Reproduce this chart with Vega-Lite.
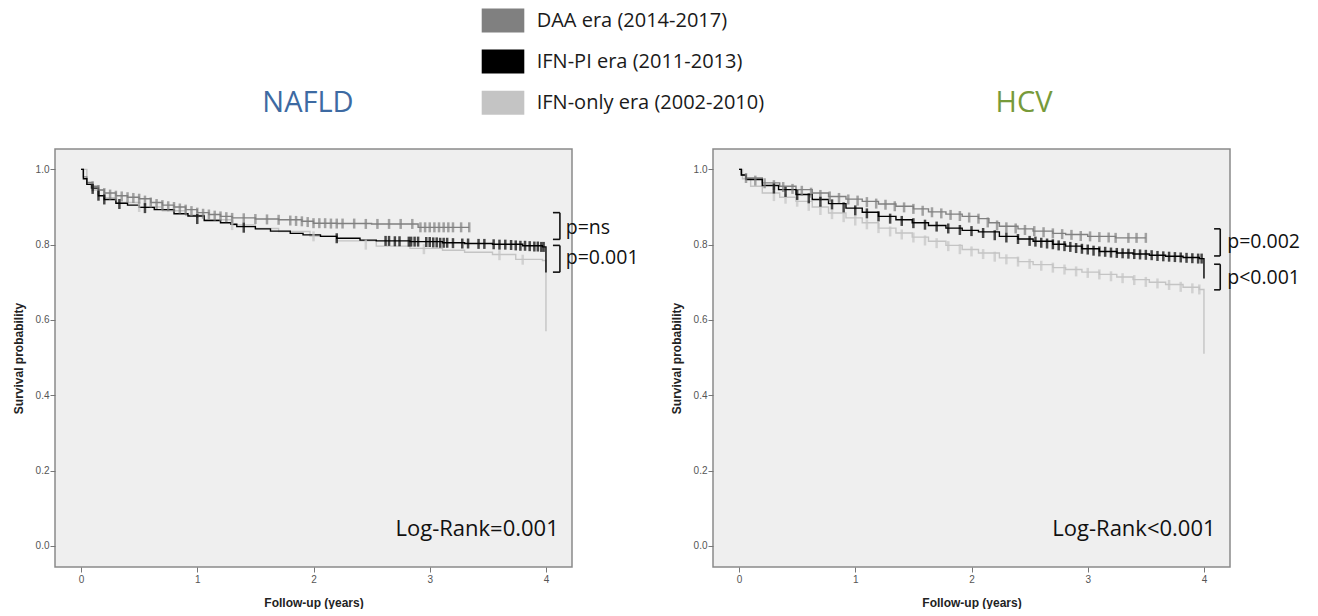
{
"$schema": "https://vega.github.io/schema/vega-lite/v6.json",
"background": "white",
"padding": {"left": 11, "top": 0, "right": 0, "bottom": 0},
"autosize": {"type": "pad"},
"bounds": "flush",
"spacing": 141,
"config": {
 "view": {"fill": "#efefef", "stroke": "#8a8a8a", "strokeWidth": 1.5},
 "axis": {"grid": false, "domain": false, "tickColor": "#777777", "tickSize": 5, "labelFont": "Liberation Sans", "labelFontSize": 10, "labelColor": "#555555", "titleFont": "Liberation Sans", "titleFontSize": 12, "titleFontWeight": "bold", "titleColor": "#222222"},
 "axisY": {"labelPadding": 1, "titlePadding": 10},
 "axisX": {"labelPadding": 2, "titlePadding": 13},
 "title": {"font": "Open Sans", "fontSize": 29, "fontWeight": "normal", "baseline": "alphabetic", "offset": 31, "anchor": "middle"}
},
"datasets": {
 "km": [
  {"p":"N","e":"O","t":0,"s":1},{"p":"N","e":"O","t":0.05,"s":0.96},{"p":"N","e":"O","t":0.1,"s":0.945},{"p":"N","e":"O","t":0.2,"s":0.925},{"p":"N","e":"O","t":0.3,"s":0.912},{"p":"N","e":"O","t":0.5,"s":0.9},{"p":"N","e":"O","t":0.7,"s":0.89},{"p":"N","e":"O","t":0.9,"s":0.878},{"p":"N","e":"O","t":1.06,"s":0.866},{"p":"N","e":"O","t":1.3,"s":0.852},{"p":"N","e":"O","t":1.5,"s":0.843},{"p":"N","e":"O","t":1.7,"s":0.835},{"p":"N","e":"O","t":1.97,"s":0.823},{"p":"N","e":"O","t":2.2,"s":0.81},{"p":"N","e":"O","t":2.54,"s":0.796},{"p":"N","e":"O","t":2.83,"s":0.79},{"p":"N","e":"O","t":3.11,"s":0.785},{"p":"N","e":"O","t":3.3,"s":0.78},{"p":"N","e":"O","t":3.54,"s":0.774},{"p":"N","e":"O","t":3.74,"s":0.761},{"p":"N","e":"O","t":3.97,"s":0.758},{"p":"N","e":"O","t":4.0,"s":0.57},
  {"p":"N","e":"D","t":0,"s":1},{"p":"N","e":"D","t":0.02,"s":0.98},{"p":"N","e":"D","t":0.05,"s":0.965},{"p":"N","e":"D","t":0.1,"s":0.955},{"p":"N","e":"D","t":0.15,"s":0.945},{"p":"N","e":"D","t":0.2,"s":0.937},{"p":"N","e":"D","t":0.3,"s":0.93},{"p":"N","e":"D","t":0.4,"s":0.926},{"p":"N","e":"D","t":0.5,"s":0.922},{"p":"N","e":"D","t":0.6,"s":0.912},{"p":"N","e":"D","t":0.7,"s":0.905},{"p":"N","e":"D","t":0.8,"s":0.9},{"p":"N","e":"D","t":0.9,"s":0.893},{"p":"N","e":"D","t":1.0,"s":0.885},{"p":"N","e":"D","t":1.1,"s":0.88},{"p":"N","e":"D","t":1.2,"s":0.875},{"p":"N","e":"D","t":1.3,"s":0.871},{"p":"N","e":"D","t":1.5,"s":0.868},{"p":"N","e":"D","t":1.7,"s":0.866},{"p":"N","e":"D","t":1.9,"s":0.862},{"p":"N","e":"D","t":2.0,"s":0.857},{"p":"N","e":"D","t":2.2,"s":0.856},{"p":"N","e":"D","t":2.5,"s":0.855},{"p":"N","e":"D","t":2.9,"s":0.846},{"p":"N","e":"D","t":3.34,"s":0.846},
  {"p":"N","e":"P","t":0,"s":1},{"p":"N","e":"P","t":0.02,"s":0.975},{"p":"N","e":"P","t":0.05,"s":0.96},{"p":"N","e":"P","t":0.09,"s":0.95},{"p":"N","e":"P","t":0.15,"s":0.93},{"p":"N","e":"P","t":0.2,"s":0.92},{"p":"N","e":"P","t":0.3,"s":0.91},{"p":"N","e":"P","t":0.4,"s":0.905},{"p":"N","e":"P","t":0.5,"s":0.899},{"p":"N","e":"P","t":0.63,"s":0.893},{"p":"N","e":"P","t":0.8,"s":0.882},{"p":"N","e":"P","t":0.92,"s":0.876},{"p":"N","e":"P","t":1.06,"s":0.864},{"p":"N","e":"P","t":1.2,"s":0.858},{"p":"N","e":"P","t":1.29,"s":0.854},{"p":"N","e":"P","t":1.34,"s":0.848},{"p":"N","e":"P","t":1.5,"s":0.842},{"p":"N","e":"P","t":1.63,"s":0.836},{"p":"N","e":"P","t":1.8,"s":0.83},{"p":"N","e":"P","t":1.91,"s":0.826},{"p":"N","e":"P","t":2.06,"s":0.822},{"p":"N","e":"P","t":2.2,"s":0.817},{"p":"N","e":"P","t":2.4,"s":0.812},{"p":"N","e":"P","t":2.54,"s":0.81},{"p":"N","e":"P","t":2.83,"s":0.808},{"p":"N","e":"P","t":3.11,"s":0.805},{"p":"N","e":"P","t":3.3,"s":0.803},{"p":"N","e":"P","t":3.54,"s":0.801},{"p":"N","e":"P","t":3.8,"s":0.797},{"p":"N","e":"P","t":3.97,"s":0.794},{"p":"N","e":"P","t":4.0,"s":0.726},
  {"p":"H","e":"O","t":0,"s":1},{"p":"H","e":"O","t":0.03,"s":0.975},{"p":"H","e":"O","t":0.1,"s":0.955},{"p":"H","e":"O","t":0.2,"s":0.937},{"p":"H","e":"O","t":0.35,"s":0.926},{"p":"H","e":"O","t":0.49,"s":0.915},{"p":"H","e":"O","t":0.63,"s":0.9},{"p":"H","e":"O","t":0.77,"s":0.884},{"p":"H","e":"O","t":0.92,"s":0.871},{"p":"H","e":"O","t":1.06,"s":0.858},{"p":"H","e":"O","t":1.2,"s":0.844},{"p":"H","e":"O","t":1.35,"s":0.831},{"p":"H","e":"O","t":1.49,"s":0.82},{"p":"H","e":"O","t":1.63,"s":0.809},{"p":"H","e":"O","t":1.78,"s":0.798},{"p":"H","e":"O","t":1.92,"s":0.787},{"p":"H","e":"O","t":2.06,"s":0.778},{"p":"H","e":"O","t":2.24,"s":0.765},{"p":"H","e":"O","t":2.4,"s":0.755},{"p":"H","e":"O","t":2.53,"s":0.747},{"p":"H","e":"O","t":2.7,"s":0.739},{"p":"H","e":"O","t":2.81,"s":0.734},{"p":"H","e":"O","t":2.95,"s":0.727},{"p":"H","e":"O","t":3.1,"s":0.721},{"p":"H","e":"O","t":3.25,"s":0.714},{"p":"H","e":"O","t":3.39,"s":0.707},{"p":"H","e":"O","t":3.53,"s":0.7},{"p":"H","e":"O","t":3.67,"s":0.694},{"p":"H","e":"O","t":3.82,"s":0.687},{"p":"H","e":"O","t":3.96,"s":0.681},{"p":"H","e":"O","t":4.0,"s":0.51},
  {"p":"H","e":"D","t":0,"s":1},{"p":"H","e":"D","t":0.02,"s":0.985},{"p":"H","e":"D","t":0.06,"s":0.977},{"p":"H","e":"D","t":0.2,"s":0.964},{"p":"H","e":"D","t":0.35,"s":0.955},{"p":"H","e":"D","t":0.49,"s":0.946},{"p":"H","e":"D","t":0.63,"s":0.937},{"p":"H","e":"D","t":0.77,"s":0.928},{"p":"H","e":"D","t":0.92,"s":0.921},{"p":"H","e":"D","t":1.06,"s":0.915},{"p":"H","e":"D","t":1.2,"s":0.908},{"p":"H","e":"D","t":1.35,"s":0.902},{"p":"H","e":"D","t":1.5,"s":0.895},{"p":"H","e":"D","t":1.63,"s":0.887},{"p":"H","e":"D","t":1.78,"s":0.881},{"p":"H","e":"D","t":1.92,"s":0.875},{"p":"H","e":"D","t":2.06,"s":0.869},{"p":"H","e":"D","t":2.15,"s":0.858},{"p":"H","e":"D","t":2.24,"s":0.849},{"p":"H","e":"D","t":2.4,"s":0.842},{"p":"H","e":"D","t":2.53,"s":0.836},{"p":"H","e":"D","t":2.7,"s":0.83},{"p":"H","e":"D","t":2.81,"s":0.827},{"p":"H","e":"D","t":3.0,"s":0.822},{"p":"H","e":"D","t":3.24,"s":0.818},{"p":"H","e":"D","t":3.5,"s":0.818},
  {"p":"H","e":"P","t":0,"s":1},{"p":"H","e":"P","t":0.02,"s":0.985},{"p":"H","e":"P","t":0.06,"s":0.973},{"p":"H","e":"P","t":0.2,"s":0.957},{"p":"H","e":"P","t":0.34,"s":0.946},{"p":"H","e":"P","t":0.49,"s":0.933},{"p":"H","e":"P","t":0.63,"s":0.92},{"p":"H","e":"P","t":0.77,"s":0.909},{"p":"H","e":"P","t":0.92,"s":0.897},{"p":"H","e":"P","t":1.06,"s":0.886},{"p":"H","e":"P","t":1.2,"s":0.875},{"p":"H","e":"P","t":1.35,"s":0.866},{"p":"H","e":"P","t":1.49,"s":0.858},{"p":"H","e":"P","t":1.63,"s":0.851},{"p":"H","e":"P","t":1.78,"s":0.844},{"p":"H","e":"P","t":1.92,"s":0.838},{"p":"H","e":"P","t":2.06,"s":0.834},{"p":"H","e":"P","t":2.24,"s":0.822},{"p":"H","e":"P","t":2.4,"s":0.815},{"p":"H","e":"P","t":2.53,"s":0.809},{"p":"H","e":"P","t":2.7,"s":0.801},{"p":"H","e":"P","t":2.81,"s":0.796},{"p":"H","e":"P","t":2.95,"s":0.789},{"p":"H","e":"P","t":3.1,"s":0.782},{"p":"H","e":"P","t":3.25,"s":0.778},{"p":"H","e":"P","t":3.39,"s":0.775},{"p":"H","e":"P","t":3.53,"s":0.772},{"p":"H","e":"P","t":3.67,"s":0.769},{"p":"H","e":"P","t":3.82,"s":0.766},{"p":"H","e":"P","t":3.96,"s":0.763},{"p":"H","e":"P","t":4.0,"s":0.71}
 ],
 "cens": [
  {"p":"N","e":"O","t":0.5,"s":0.9},{"p":"N","e":"O","t":1.3,"s":0.852},{"p":"N","e":"O","t":2.0,"s":0.822},{"p":"N","e":"O","t":2.45,"s":0.8},{"p":"N","e":"O","t":2.95,"s":0.788},{"p":"N","e":"O","t":3.6,"s":0.772},{"p":"N","e":"O","t":3.8,"s":0.76},
  {"p":"N","e":"D","t":0.1,"s":0.955},{"p":"N","e":"D","t":0.15,"s":0.945},{"p":"N","e":"D","t":0.2,"s":0.937},{"p":"N","e":"D","t":0.25,"s":0.933},{"p":"N","e":"D","t":0.3,"s":0.93},{"p":"N","e":"D","t":0.35,"s":0.928},{"p":"N","e":"D","t":0.4,"s":0.926},{"p":"N","e":"D","t":0.45,"s":0.924},{"p":"N","e":"D","t":0.5,"s":0.922},{"p":"N","e":"D","t":0.55,"s":0.917},{"p":"N","e":"D","t":0.6,"s":0.912},{"p":"N","e":"D","t":0.65,"s":0.908},{"p":"N","e":"D","t":0.7,"s":0.905},{"p":"N","e":"D","t":0.75,"s":0.902},{"p":"N","e":"D","t":0.8,"s":0.9},{"p":"N","e":"D","t":0.85,"s":0.896},{"p":"N","e":"D","t":0.9,"s":0.893},{"p":"N","e":"D","t":0.95,"s":0.889},{"p":"N","e":"D","t":1.0,"s":0.885},{"p":"N","e":"D","t":1.05,"s":0.882},{"p":"N","e":"D","t":1.1,"s":0.88},{"p":"N","e":"D","t":1.15,"s":0.877},{"p":"N","e":"D","t":1.2,"s":0.875},{"p":"N","e":"D","t":1.25,"s":0.873},{"p":"N","e":"D","t":1.3,"s":0.871},{"p":"N","e":"D","t":1.4,"s":0.87},{"p":"N","e":"D","t":1.5,"s":0.868},{"p":"N","e":"D","t":1.6,"s":0.867},{"p":"N","e":"D","t":1.7,"s":0.866},{"p":"N","e":"D","t":1.8,"s":0.864},{"p":"N","e":"D","t":1.85,"s":0.863},{"p":"N","e":"D","t":1.9,"s":0.862},{"p":"N","e":"D","t":1.95,"s":0.86},{"p":"N","e":"D","t":2.0,"s":0.857},{"p":"N","e":"D","t":2.05,"s":0.857},{"p":"N","e":"D","t":2.1,"s":0.857},{"p":"N","e":"D","t":2.15,"s":0.856},{"p":"N","e":"D","t":2.2,"s":0.856},{"p":"N","e":"D","t":2.25,"s":0.856},{"p":"N","e":"D","t":2.35,"s":0.856},{"p":"N","e":"D","t":2.45,"s":0.855},{"p":"N","e":"D","t":2.55,"s":0.855},{"p":"N","e":"D","t":2.65,"s":0.855},{"p":"N","e":"D","t":2.75,"s":0.855},{"p":"N","e":"D","t":2.85,"s":0.855},{"p":"N","e":"D","t":2.92,"s":0.846},{"p":"N","e":"D","t":2.96,"s":0.846},{"p":"N","e":"D","t":3.0,"s":0.846},{"p":"N","e":"D","t":3.04,"s":0.846},{"p":"N","e":"D","t":3.08,"s":0.846},{"p":"N","e":"D","t":3.12,"s":0.846},{"p":"N","e":"D","t":3.16,"s":0.846},{"p":"N","e":"D","t":3.2,"s":0.846},{"p":"N","e":"D","t":3.27,"s":0.846},{"p":"N","e":"D","t":3.34,"s":0.846},
  {"p":"N","e":"P","t":0.1,"s":0.948},{"p":"N","e":"P","t":0.15,"s":0.93},{"p":"N","e":"P","t":0.2,"s":0.92},{"p":"N","e":"P","t":0.33,"s":0.908},{"p":"N","e":"P","t":0.55,"s":0.897},{"p":"N","e":"P","t":1.0,"s":0.868},{"p":"N","e":"P","t":1.4,"s":0.845},{"p":"N","e":"P","t":2.2,"s":0.817},{"p":"N","e":"P","t":2.62,"s":0.81},{"p":"N","e":"P","t":2.65,"s":0.81},{"p":"N","e":"P","t":2.7,"s":0.809},{"p":"N","e":"P","t":2.74,"s":0.809},{"p":"N","e":"P","t":2.82,"s":0.808},{"p":"N","e":"P","t":2.84,"s":0.808},{"p":"N","e":"P","t":2.87,"s":0.808},{"p":"N","e":"P","t":2.9,"s":0.808},{"p":"N","e":"P","t":2.97,"s":0.807},{"p":"N","e":"P","t":3.0,"s":0.807},{"p":"N","e":"P","t":3.03,"s":0.806},{"p":"N","e":"P","t":3.06,"s":0.806},{"p":"N","e":"P","t":3.09,"s":0.805},{"p":"N","e":"P","t":3.12,"s":0.805},{"p":"N","e":"P","t":3.15,"s":0.805},{"p":"N","e":"P","t":3.2,"s":0.804},{"p":"N","e":"P","t":3.28,"s":0.803},{"p":"N","e":"P","t":3.33,"s":0.803},{"p":"N","e":"P","t":3.42,"s":0.802},{"p":"N","e":"P","t":3.47,"s":0.802},{"p":"N","e":"P","t":3.55,"s":0.801},{"p":"N","e":"P","t":3.6,"s":0.8},{"p":"N","e":"P","t":3.65,"s":0.8},{"p":"N","e":"P","t":3.7,"s":0.799},{"p":"N","e":"P","t":3.74,"s":0.798},{"p":"N","e":"P","t":3.78,"s":0.797},{"p":"N","e":"P","t":3.82,"s":0.797},{"p":"N","e":"P","t":3.86,"s":0.796},{"p":"N","e":"P","t":3.9,"s":0.795},{"p":"N","e":"P","t":3.93,"s":0.795},{"p":"N","e":"P","t":3.96,"s":0.794},{"p":"N","e":"P","t":3.98,"s":0.794},
  {"p":"H","e":"O","t":0.3,"s":0.929},{"p":"H","e":"O","t":0.4,"s":0.922},{"p":"H","e":"O","t":0.5,"s":0.914},{"p":"H","e":"O","t":0.6,"s":0.903},{"p":"H","e":"O","t":0.7,"s":0.892},{"p":"H","e":"O","t":0.8,"s":0.881},{"p":"H","e":"O","t":0.9,"s":0.873},{"p":"H","e":"O","t":1.0,"s":0.864},{"p":"H","e":"O","t":1.1,"s":0.854},{"p":"H","e":"O","t":1.2,"s":0.844},{"p":"H","e":"O","t":1.3,"s":0.835},{"p":"H","e":"O","t":1.4,"s":0.827},{"p":"H","e":"O","t":1.5,"s":0.819},{"p":"H","e":"O","t":1.6,"s":0.811},{"p":"H","e":"O","t":1.7,"s":0.804},{"p":"H","e":"O","t":1.8,"s":0.796},{"p":"H","e":"O","t":1.9,"s":0.788},{"p":"H","e":"O","t":2.0,"s":0.782},{"p":"H","e":"O","t":2.1,"s":0.775},{"p":"H","e":"O","t":2.2,"s":0.768},{"p":"H","e":"O","t":2.3,"s":0.761},{"p":"H","e":"O","t":2.4,"s":0.755},{"p":"H","e":"O","t":2.5,"s":0.749},{"p":"H","e":"O","t":2.6,"s":0.744},{"p":"H","e":"O","t":2.7,"s":0.739},{"p":"H","e":"O","t":2.8,"s":0.734},{"p":"H","e":"O","t":2.9,"s":0.729},{"p":"H","e":"O","t":3.0,"s":0.725},{"p":"H","e":"O","t":3.1,"s":0.721},{"p":"H","e":"O","t":3.2,"s":0.716},{"p":"H","e":"O","t":3.3,"s":0.711},{"p":"H","e":"O","t":3.4,"s":0.706},{"p":"H","e":"O","t":3.5,"s":0.701},{"p":"H","e":"O","t":3.6,"s":0.697},{"p":"H","e":"O","t":3.7,"s":0.693},{"p":"H","e":"O","t":3.8,"s":0.688},{"p":"H","e":"O","t":3.9,"s":0.684},{"p":"H","e":"O","t":3.96,"s":0.681},
  {"p":"H","e":"D","t":0.06,"s":0.977},{"p":"H","e":"D","t":0.14,"s":0.97},{"p":"H","e":"D","t":0.22,"s":0.963},{"p":"H","e":"D","t":0.3,"s":0.958},{"p":"H","e":"D","t":0.38,"s":0.953},{"p":"H","e":"D","t":0.46,"s":0.948},{"p":"H","e":"D","t":0.54,"s":0.943},{"p":"H","e":"D","t":0.62,"s":0.938},{"p":"H","e":"D","t":0.7,"s":0.932},{"p":"H","e":"D","t":0.78,"s":0.928},{"p":"H","e":"D","t":0.86,"s":0.924},{"p":"H","e":"D","t":0.94,"s":0.92},{"p":"H","e":"D","t":1.02,"s":0.917},{"p":"H","e":"D","t":1.1,"s":0.913},{"p":"H","e":"D","t":1.18,"s":0.909},{"p":"H","e":"D","t":1.26,"s":0.906},{"p":"H","e":"D","t":1.34,"s":0.902},{"p":"H","e":"D","t":1.42,"s":0.899},{"p":"H","e":"D","t":1.5,"s":0.895},{"p":"H","e":"D","t":1.58,"s":0.89},{"p":"H","e":"D","t":1.66,"s":0.886},{"p":"H","e":"D","t":1.74,"s":0.883},{"p":"H","e":"D","t":1.82,"s":0.879},{"p":"H","e":"D","t":1.9,"s":0.876},{"p":"H","e":"D","t":1.98,"s":0.872},{"p":"H","e":"D","t":2.06,"s":0.869},{"p":"H","e":"D","t":2.14,"s":0.859},{"p":"H","e":"D","t":2.22,"s":0.851},{"p":"H","e":"D","t":2.3,"s":0.846},{"p":"H","e":"D","t":2.38,"s":0.843},{"p":"H","e":"D","t":2.46,"s":0.839},{"p":"H","e":"D","t":2.54,"s":0.836},{"p":"H","e":"D","t":2.62,"s":0.833},{"p":"H","e":"D","t":2.7,"s":0.83},{"p":"H","e":"D","t":2.78,"s":0.828},{"p":"H","e":"D","t":2.86,"s":0.826},{"p":"H","e":"D","t":2.94,"s":0.823},{"p":"H","e":"D","t":3.02,"s":0.822},{"p":"H","e":"D","t":3.1,"s":0.82},{"p":"H","e":"D","t":3.18,"s":0.819},{"p":"H","e":"D","t":3.24,"s":0.818},{"p":"H","e":"D","t":3.35,"s":0.818},{"p":"H","e":"D","t":3.42,"s":0.818},{"p":"H","e":"D","t":3.5,"s":0.818},
  {"p":"H","e":"P","t":0.3,"s":0.949},{"p":"H","e":"P","t":0.4,"s":0.94},{"p":"H","e":"P","t":0.5,"s":0.932},{"p":"H","e":"P","t":0.6,"s":0.923},{"p":"H","e":"P","t":0.7,"s":0.914},{"p":"H","e":"P","t":0.8,"s":0.907},{"p":"H","e":"P","t":0.9,"s":0.899},{"p":"H","e":"P","t":1.0,"s":0.891},{"p":"H","e":"P","t":1.1,"s":0.883},{"p":"H","e":"P","t":1.2,"s":0.875},{"p":"H","e":"P","t":1.3,"s":0.869},{"p":"H","e":"P","t":1.4,"s":0.863},{"p":"H","e":"P","t":1.5,"s":0.857},{"p":"H","e":"P","t":1.6,"s":0.853},{"p":"H","e":"P","t":1.7,"s":0.848},{"p":"H","e":"P","t":1.8,"s":0.843},{"p":"H","e":"P","t":1.9,"s":0.839},{"p":"H","e":"P","t":2.0,"s":0.836},{"p":"H","e":"P","t":2.1,"s":0.831},{"p":"H","e":"P","t":2.2,"s":0.825},{"p":"H","e":"P","t":2.3,"s":0.819},{"p":"H","e":"P","t":2.4,"s":0.815},{"p":"H","e":"P","t":2.5,"s":0.81},{"p":"H","e":"P","t":2.55,"s":0.808},{"p":"H","e":"P","t":2.6,"s":0.805},{"p":"H","e":"P","t":2.65,"s":0.803},{"p":"H","e":"P","t":2.7,"s":0.801},{"p":"H","e":"P","t":2.75,"s":0.798},{"p":"H","e":"P","t":2.8,"s":0.796},{"p":"H","e":"P","t":2.85,"s":0.794},{"p":"H","e":"P","t":2.9,"s":0.791},{"p":"H","e":"P","t":2.95,"s":0.789},{"p":"H","e":"P","t":3.0,"s":0.787},{"p":"H","e":"P","t":3.05,"s":0.784},{"p":"H","e":"P","t":3.1,"s":0.782},{"p":"H","e":"P","t":3.15,"s":0.781},{"p":"H","e":"P","t":3.2,"s":0.779},{"p":"H","e":"P","t":3.25,"s":0.778},{"p":"H","e":"P","t":3.3,"s":0.777},{"p":"H","e":"P","t":3.35,"s":0.776},{"p":"H","e":"P","t":3.4,"s":0.775},{"p":"H","e":"P","t":3.45,"s":0.774},{"p":"H","e":"P","t":3.5,"s":0.773},{"p":"H","e":"P","t":3.55,"s":0.772},{"p":"H","e":"P","t":3.6,"s":0.77},{"p":"H","e":"P","t":3.65,"s":0.769},{"p":"H","e":"P","t":3.7,"s":0.768},{"p":"H","e":"P","t":3.75,"s":0.767},{"p":"H","e":"P","t":3.8,"s":0.766},{"p":"H","e":"P","t":3.85,"s":0.765},{"p":"H","e":"P","t":3.9,"s":0.764},{"p":"H","e":"P","t":3.95,"s":0.763},{"p":"H","e":"P","t":3.98,"s":0.763}
 ],
 "brk": [
  {"p":"N","t":4.12,"s":0.885,"t2":4.12,"s2":0.814},{"p":"N","t":4.06,"s":0.885,"t2":4.12,"s2":0.885},{"p":"N","t":4.06,"s":0.814,"t2":4.12,"s2":0.814},
  {"p":"N","t":4.12,"s":0.798,"t2":4.12,"s2":0.727},{"p":"N","t":4.06,"s":0.798,"t2":4.12,"s2":0.798},{"p":"N","t":4.06,"s":0.727,"t2":4.12,"s2":0.727},
  {"p":"H","t":4.14,"s":0.842,"t2":4.14,"s2":0.77},{"p":"H","t":4.087,"s":0.842,"t2":4.14,"s2":0.842},{"p":"H","t":4.087,"s":0.77,"t2":4.14,"s2":0.77},
  {"p":"H","t":4.14,"s":0.748,"t2":4.14,"s2":0.68},{"p":"H","t":4.087,"s":0.748,"t2":4.14,"s2":0.748},{"p":"H","t":4.087,"s":0.68,"t2":4.14,"s2":0.68}
 ],
 "pv": [
  {"p":"N","t":4.17,"s":0.845,"label":"p=ns"},{"p":"N","t":4.17,"s":0.765,"label":"p=0.001"},
  {"p":"H","t":4.2,"s":0.807,"label":"p=0.002"},{"p":"H","t":4.2,"s":0.712,"label":"p<0.001"}
 ],
 "lr": [
  {"p":"N","t":4.11,"s":0.025,"label":"Log-Rank=0.001"},
  {"p":"H","t":4.1,"s":0.025,"label":"Log-Rank<0.001"}
 ]
},
"resolve": {"scale": {"color": "shared"}, "legend": {"color": "shared"}},
"hconcat": [
 {
  "width": 517, "height": 418,
  "title": {"text": "NAFLD", "color": "#3d6aa2", "dx": -5.5},
  "layer": [
   {"data": {"name": "km"}, "transform": [{"filter": "datum.p=='N'"}],
    "mark": {"type": "line", "interpolate": "step-after", "strokeWidth": 1.4},
    "encoding": {
     "x": {"field": "t", "type": "quantitative", "scale": {"domain": [-0.224, 4.224], "nice": false, "zero": false}, "axis": {"values": [0,1,2,3,4], "format": "d", "title": "Follow-up (years)"}},
     "y": {"field": "s", "type": "quantitative", "scale": {"domain": [-0.056, 1.054], "nice": false, "zero": false}, "axis": {"values": [0,0.2,0.4,0.6,0.8,1], "format": ".1f", "title": "Survival probability"}},
     "color": {"field": "e", "type": "nominal", "scale": {"domain": ["D","P","O"], "range": ["#808080","#000000","#c4c4c4"]},
      "legend": {"title": null, "orient": "none", "legendX": 428, "legendY": -148.5, "symbolType": "M-1.065,-0.6H1.065V0.6H-1.065Z", "symbolSize": 1600, "symbolStrokeWidth": 0, "labelFontSize": 20, "labelFont": "Open Sans", "labelColor": "#1a1a1a", "labelOffset": 13.7, "rowPadding": 9.1, "labelLimit": 400, "symbolOpacity": 1,
       "labelExpr": "datum.value=='D'?'DAA era (2014-2017)':datum.value=='P'?'IFN-PI era (2011-2013)':'IFN-only era (2002-2010)'",
       "encode": {"symbols": {"update": {"fill": {"scale": "color", "field": "value"}, "stroke": {"value": "transparent"}}}}}},
     "detail": {"field": "e"}
    }},
   {"data": {"name": "cens"}, "transform": [{"filter": "datum.p=='N'"}],
    "mark": {"type": "tick", "orient": "vertical", "thickness": 2.5, "size": 10},
    "encoding": {"x": {"field": "t", "type": "quantitative"}, "y": {"field": "s", "type": "quantitative"}, "color": {"field": "e", "type": "nominal"}}},
   {"data": {"name": "brk"}, "transform": [{"filter": "datum.p=='N'"}],
    "mark": {"type": "rule", "color": "#111111", "strokeWidth": 1.6},
    "encoding": {"x": {"field": "t", "type": "quantitative"}, "y": {"field": "s", "type": "quantitative"}, "x2": {"field": "t2"}, "y2": {"field": "s2"}}},
   {"data": {"name": "pv"}, "transform": [{"filter": "datum.p=='N'"}],
    "mark": {"type": "text", "align": "left", "baseline": "middle", "fontSize": 19.5, "font": "Open Sans", "color": "#111111"},
    "encoding": {"x": {"field": "t", "type": "quantitative"}, "y": {"field": "s", "type": "quantitative"}, "text": {"field": "label"}}},
   {"data": {"name": "lr"}, "transform": [{"filter": "datum.p=='N'"}],
    "mark": {"type": "text", "align": "right", "baseline": "alphabetic", "fontSize": 22, "font": "Open Sans", "color": "#111111"},
    "encoding": {"x": {"field": "t", "type": "quantitative"}, "y": {"field": "s", "type": "quantitative"}, "text": {"field": "label"}}}
  ]
 },
 {
  "width": 517, "height": 418,
  "title": {"text": "HCV", "color": "#779a3a", "dx": 52.5},
  "layer": [
   {"data": {"name": "km"}, "transform": [{"filter": "datum.p=='H'"}],
    "mark": {"type": "line", "interpolate": "step-after", "strokeWidth": 1.4},
    "encoding": {
     "x": {"field": "t", "type": "quantitative", "scale": {"domain": [-0.224, 4.224], "nice": false, "zero": false}, "axis": {"values": [0,1,2,3,4], "format": "d", "title": "Follow-up (years)"}},
     "y": {"field": "s", "type": "quantitative", "scale": {"domain": [-0.056, 1.054], "nice": false, "zero": false}, "axis": {"values": [0,0.2,0.4,0.6,0.8,1], "format": ".1f", "title": "Survival probability"}},
     "color": {"field": "e", "type": "nominal"},
     "detail": {"field": "e"}
    }},
   {"data": {"name": "cens"}, "transform": [{"filter": "datum.p=='H'"}],
    "mark": {"type": "tick", "orient": "vertical", "thickness": 2.5, "size": 10},
    "encoding": {"x": {"field": "t", "type": "quantitative"}, "y": {"field": "s", "type": "quantitative"}, "color": {"field": "e", "type": "nominal"}}},
   {"data": {"name": "brk"}, "transform": [{"filter": "datum.p=='H'"}],
    "mark": {"type": "rule", "color": "#111111", "strokeWidth": 1.6},
    "encoding": {"x": {"field": "t", "type": "quantitative"}, "y": {"field": "s", "type": "quantitative"}, "x2": {"field": "t2"}, "y2": {"field": "s2"}}},
   {"data": {"name": "pv"}, "transform": [{"filter": "datum.p=='H'"}],
    "mark": {"type": "text", "align": "left", "baseline": "middle", "fontSize": 19.5, "font": "Open Sans", "color": "#111111"},
    "encoding": {"x": {"field": "t", "type": "quantitative"}, "y": {"field": "s", "type": "quantitative"}, "text": {"field": "label"}}},
   {"data": {"name": "lr"}, "transform": [{"filter": "datum.p=='H'"}],
    "mark": {"type": "text", "align": "right", "baseline": "alphabetic", "fontSize": 22, "font": "Open Sans", "color": "#111111"},
    "encoding": {"x": {"field": "t", "type": "quantitative"}, "y": {"field": "s", "type": "quantitative"}, "text": {"field": "label"}}}
  ]
 }
]
}
